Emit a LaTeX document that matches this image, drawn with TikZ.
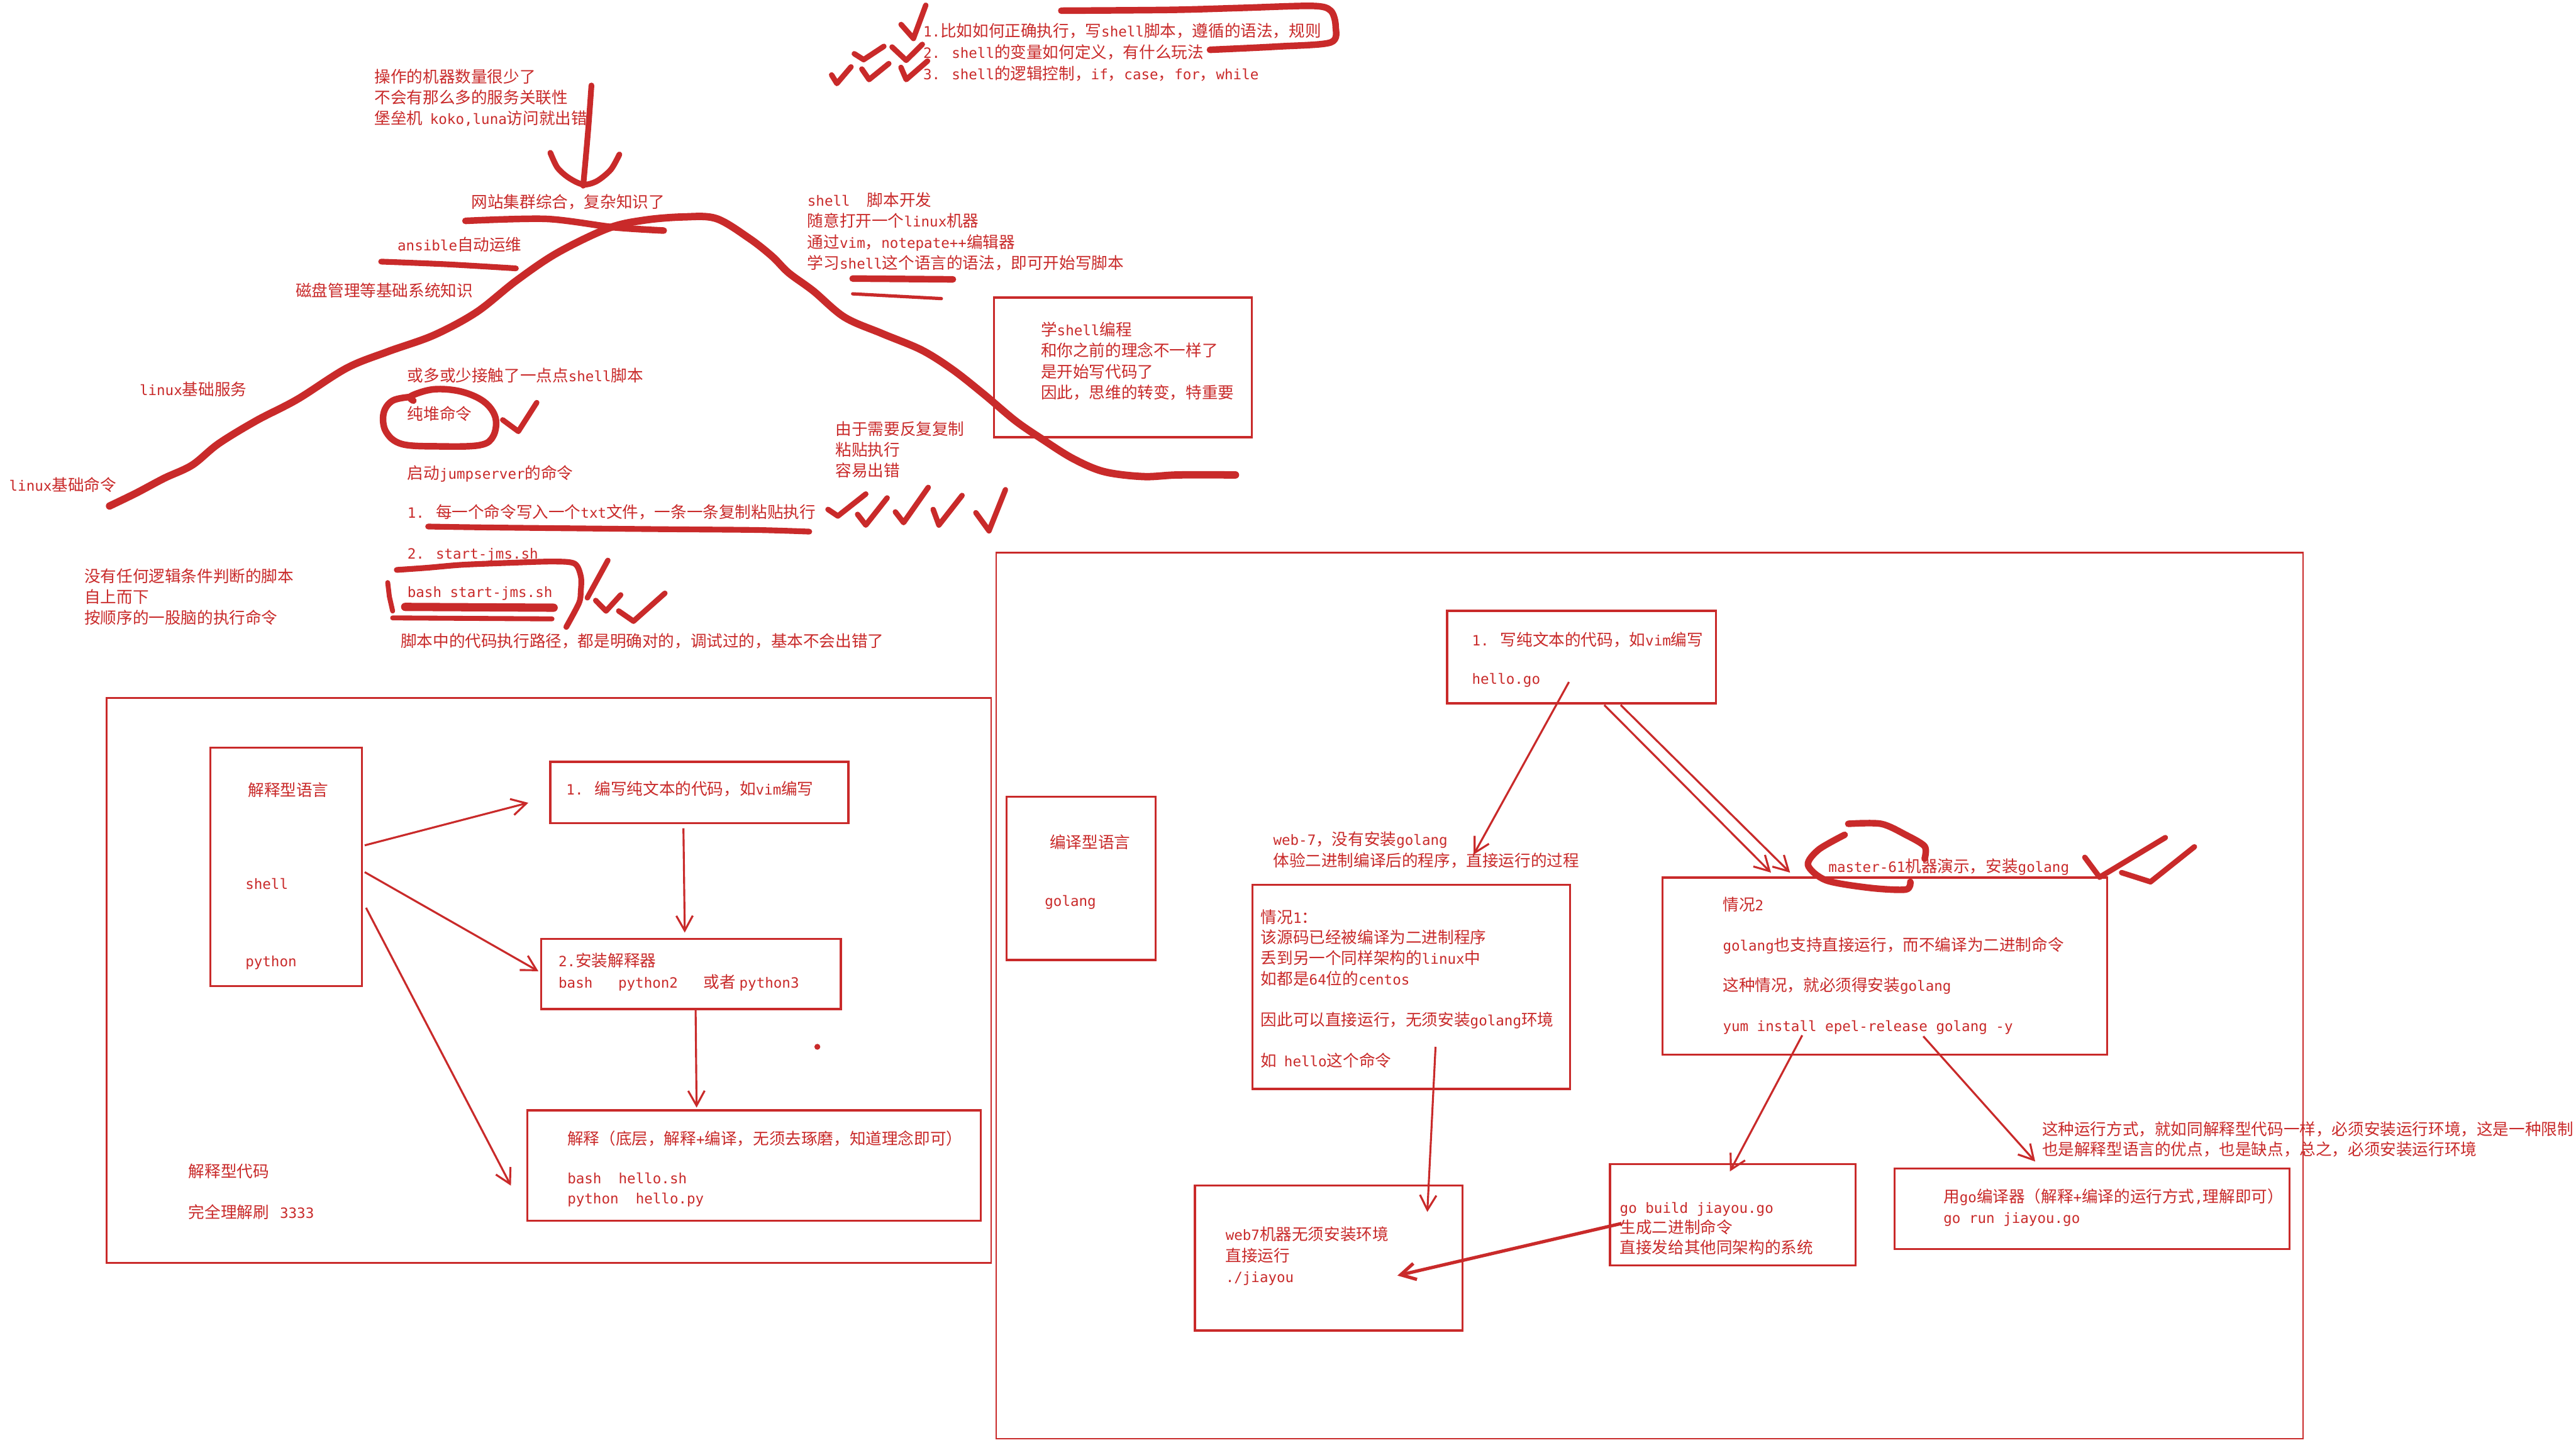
\documentclass[tikz,border=0pt]{standalone}
\usepackage{fontspec}
\usetikzlibrary{arrows.meta,calc}
\newfontfamily\cjkf{Noto Sans CJK SC}
\newfontfamily\latf[Scale=0.88]{DejaVu Sans Mono}
\definecolor{exred}{RGB}{201,42,42}
\XeTeXinterchartokenstate=1
\newXeTeXintercharclass\CJKcls
\newcount\cjkc
\cjkc="3000 \loop\ifnum\cjkc<"3040 \XeTeXcharclass\cjkc=\CJKcls \advance\cjkc by 1 \repeat
\cjkc="4E00 \loop\ifnum\cjkc<"A000 \XeTeXcharclass\cjkc=\CJKcls \advance\cjkc by 1 \repeat
\cjkc="FF00 \loop\ifnum\cjkc<"FFF0 \XeTeXcharclass\cjkc=\CJKcls \advance\cjkc by 1 \repeat
\XeTeXinterchartoks 0 \CJKcls={\cjkf}
\XeTeXinterchartoks 4095 \CJKcls={\cjkf}
\XeTeXinterchartoks \CJKcls 0={\latf}
\XeTeXinterchartoks 4095 0={\latf}
\newcommand\fsz{\fontsize{9.8}{12.6}\selectfont}
\tikzset{
  box/.style={draw=exred, line width=1.3pt, inner sep=0pt, outer sep=0pt, anchor=north west},
  frame/.style={draw=exred, line width=1pt, inner sep=0pt, outer sep=0pt, anchor=north west},
  txt/.style={anchor=north west, inner sep=0pt, outer sep=0pt, align=left, font=\fsz, text=exred, execute at begin node={\rule{0pt}{8.6pt}}},
  arr/.style={draw=exred, line width=1.2pt, -{Straight Barb[length=9pt,width=10pt]}},
  hlstroke/.style={draw=exred, line width=4pt, line cap=round, line join=round},
  tickmk/.style={draw=exred, line width=3.3pt, line cap=round, line join=round},
}
\begin{document}
\begin{tikzpicture}[x=1pt,y=-1pt]
\useasboundingbox (0,0) rectangle (1568,879);
\fill[white] (0,0) rectangle (1568,879);

% ===== top list =====
\node[txt, font={\fontsize{9.8}{13}\selectfont}] (toplist) at (562,14) {1.比如如何正确执行，写shell脚本，遵循的语法，规则\\2. shell的变量如何定义，有什么玩法\\3. shell的逻辑控制，if，case，for，while};
\draw[hlstroke] plot[smooth, tension=0.5] coordinates {(646,6.5) (713,6) (756,4.8) (799,3.6) (810,6.5) (813,16) (810,25.8) (778,28.3) (736.5,30.3)};
\draw[tickmk] (506.2,45.6) -- (509.4,50.8) -- (518,40.7);
\draw[tickmk] (524.6,42) -- (529,48.4) -- (541,38.7);
\draw[tickmk] (520,32.7) -- (525.7,36.3) -- (538,28.2);
\draw[tickmk] (548.4,41) -- (551.6,48.4) -- (564.6,37.1);
\draw[tickmk] (543,28.6) -- (551.6,36.7) -- (561.4,27);
\draw[tickmk] (548.5,14.9) -- (556,23.4) -- (563.5,3.2);

% ===== mountain =====
\draw[hlstroke, line width=4.5pt] plot[smooth, tension=0.55] coordinates {(66.7,307.9) (83,300) (100,291) (117,283) (133,270) (156,256) (181,243) (211,224) (236,214) (264,204) (290,190) (314,171) (339,154) (370,139) (392,134) (416,132) (436,133) (456,145) (470,156) (480,166) (495,177) (514,193) (537,203) (561,213) (580,225) (599,240) (618,256) (634,267) (653,279) (672,287) (696,290) (717,289) (752,289)};

\node[txt] (ops) at (228,42) {操作的机器数量很少了\\不会有那么多的服务关联性\\堡垒机\ \ koko,luna访问就出错};
\draw[hlstroke, line width=3.5pt] (360,52) .. controls (358,80) .. (355,113);
\draw[hlstroke, line width=3.5pt] plot[smooth] coordinates {(335,93) (339.3,102) (346.2,108.2) (355,112.3) (363.3,110.2) (371.8,103.2) (377,94)};

\node[txt] (net) at (287,118) {网站集群综合，复杂知识了};
\draw[hlstroke] plot[smooth] coordinates {(283.3,134.4) (332.6,133.2) (373.5,138.3) (404,140.3)};
\node[txt] (ans) at (242,144) {ansible自动运维};
\draw[hlstroke, line width=3.5pt] plot[smooth] coordinates {(232,159.2) (271.5,160.8) (314,163.3)};
\node[txt] (disk) at (180,172) {磁盘管理等基础系统知识};
\node[txt] (svc) at (85,232) {linux基础服务};
\node[txt] (cmd) at (5.6,290) {linux基础命令};

\node[txt] (bit) at (248,223.6) {或多或少接触了一点点shell脚本};
\node[txt] (pure) at (248,247) {纯堆命令};
\draw[hlstroke] plot[smooth, tension=0.6] coordinates {(251.6,243.8) (250.2,241) (264,236.9) (280.8,238.3) (294.7,244.5) (301.6,254.2) (300.2,265.4) (291.9,270.9) (266.9,271.6) (244.6,270.2) (234.9,262.6) (233.5,251.5) (239,243.8) (250.2,241.5)};
\draw[tickmk] (306,255.5) -- (315.5,262.5) -- (326.7,245);

\node[txt] (jump) at (248,283) {启动jumpserver的命令};
\node[txt] (j1) at (248,306.5) {1. 每一个命令写入一个txt文件，一条一条复制粘贴执行};
\draw[hlstroke, line width=3.5pt] plot[smooth] coordinates {(260.6,320.4) (300,321) (400,322) (460,322.5) (492.6,323.5)};
\draw[tickmk] (504,310) -- (510,314) -- (527,300.6);
\draw[tickmk] (522,313) -- (527,319.5) -- (540,303);
\draw[tickmk] (545,311.5) -- (550,318) -- (565,296.6);
\draw[tickmk] (568,310) -- (571.5,319.5) -- (585.6,301.5);
\draw[tickmk] (594,312) -- (602,323) -- (612,298);

\node[txt] (j2) at (248,331.5) {2. start-jms.sh};
\node[txt] (j3) at (248,354.7) {bash start-jms.sh};
\draw[hlstroke, line width=3.5pt] plot[smooth] coordinates {(241.5,346.8) (260,345.5) (281,343.7) (310,342.5) (337,341.7) (349.8,343) (353.6,351) (353.5,360) (352.4,367) (344.7,381.5)};
\draw[hlstroke, line width=3pt] (236,354.5) -- (237,363) -- (239,371.8);
\draw[hlstroke, line width=5pt] (246.6,369.3) -- (337,369.8);
\draw[hlstroke, line width=3pt] (239,376) -- (336,376.6);
\draw[tickmk] (370,341) -- (357.5,363.8);
\draw[tickmk] (362.6,365.4) -- (368.9,371.8) -- (377.8,362);
\draw[tickmk] (376.6,371.8) -- (385.6,378) -- (404.7,361);
\node[txt] (pathok) at (244,385) {脚本中的代码执行路径，都是明确对的，调试过的，基本不会出错了};

\node[txt] (rep) at (508.6,256.6) {由于需要反复复制\\粘贴执行\\容易出错};
\node[txt, font={\fontsize{9.8}{12.8}\selectfont}] (dev) at (491.5,117) {shell\ \ 脚本开发\\随意打开一个linux机器\\通过vim，notepate++编辑器\\学习shell这个语言的语法，即可开始写脚本};
\draw[hlstroke] (519,169.5) -- (580,170);
\draw[hlstroke, line width=2pt] (519,178.8) -- (573,181.7);

\node[box, minimum width=157pt, minimum height=85pt] (learn) at (605,181) {};
\node[txt, font={\fontsize{9.8}{12.7}\selectfont}] (learnt) at (633.6,196) {学shell编程\\和你之前的理念不一样了\\是开始写代码了\\因此，思维的转变，特重要};

\node[txt] (nologic) at (51.4,346) {没有任何逻辑条件判断的脚本\\自上而下\\按顺序的一股脑的执行命令};

% ===== left frame: interpreted =====
\node[frame, minimum width=538.5pt, minimum height=343.7pt] (leftframe) at (64.8,424.8) {};
\node[box, minimum width=92.4pt, minimum height=145pt] (interp) at (128,455) {};
\node[txt] (interpt) at (151,475.7) {解释型语言};
\node[txt] (shellt) at (149.4,532.4) {shell};
\node[txt] (pyt) at (149.4,579.4) {python};
\node[box, minimum width=181.4pt, minimum height=37.3pt] (box1) at (335,463.5) {};
\node[txt] (box1t) at (344.7,475) {1. 编写纯文本的代码，如vim编写};
\node[box, minimum width=182.4pt, minimum height=42.6pt] (box2) at (329.4,571.4) {};
\node[txt, font={\fontsize{9.8}{13}\selectfont}] (box2t) at (340,580) {2.安装解释器\\bash\ \ \ python2\ \ \ 或者 python3};
\node[box, minimum width=276pt, minimum height=67.2pt] (box3) at (321,675.6) {};
\node[txt, font={\fontsize{9.8}{12}\selectfont}] (box3t) at (345.4,688) {解释（底层，解释+编译，无须去琢磨，知道理念即可）\\[12pt]bash\ \ hello.sh\\python\ \ hello.py};
\draw[arr] ($(interp.north east)+(1.6,59.4)$) -- ($(box1.north west)+(-13.4,25)$);
\draw[arr] ($(interp.north east)+(1.6,75.7)$) -- ($(box2.north west)+(-1.7,19.6)$);
\draw[arr] ($(interp.north east)+(2.4,97.4)$) -- ($(box3.north west)+(-10,45.9)$);
\draw[arr] ($(box1.south west)+(81,3.2)$) -- ($(box2.north west)+(87.4,-3.9)$);
\draw[arr] ($(box2.south west)+(94,-0.7)$) -- ($(box3.north west)+(103,-1.6)$);
\fill[exred] (497.5,637) circle (1.8);
\node[txt, font={\fontsize{9.8}{12.3}\selectfont}] (code) at (114.8,708.3) {解释型代码\\[12.3pt]完全理解刷\ \ \ 3333};

% ===== right frame: compiled =====
\node[frame, minimum width=795.4pt, minimum height=539.1pt] (rightframe) at (606.4,336.4) {};
\node[box, minimum width=90.6pt, minimum height=99.4pt] (comp) at (612.7,484.8) {};
\node[txt] (compt) at (639,507.7) {编译型语言};
\node[txt] (golt) at (636,543) {golang};
\node[box, minimum width=163.6pt, minimum height=56.3pt] (hello) at (880.8,371.7) {};
\node[txt, font={\fontsize{9.8}{12}\selectfont}] (hellot) at (896,384.7) {1. 写纯文本的代码，如vim编写\\[11.3pt]hello.go};
\node[txt, font={\fontsize{9.8}{13}\selectfont}] (web7t) at (775,506) {web-7，没有安装golang\\体验二进制编译后的程序，直接运行的过程};
\node[box, minimum width=193.3pt, minimum height=124.2pt] (q1) at (762.4,538.4) {};
\node[txt, font={\fontsize{9.8}{12.5}\selectfont}] (q1t) at (767.5,553.4) {情况1：\\该源码已经被编译为二进制程序\\丢到另一个同样架构的linux中\\如都是64位的centos\\[12.5pt]因此可以直接运行，无须安装golang环境\\[12.5pt]如\ \ hello这个命令};
\node[box, minimum width=270.5pt, minimum height=107.8pt] (q2) at (1012,534) {};
\node[txt, font={\fontsize{9.8}{12.2}\selectfont}] (q2t) at (1048.7,546) {情况2\\[12.2pt]golang也支持直接运行，而不编译为二进制命令\\[12.2pt]这种情况，就必须得安装golang\\[12.2pt]yum install epel-release golang -y};
\node[txt] (mastert) at (1113,522) {master-61机器演示，安装golang};
\draw[hlstroke] plot[smooth] coordinates {(1125,501.3) (1145,501.3) (1160,508) (1171.5,515) (1171.5,522.6)};
\draw[hlstroke] plot[smooth] coordinates {(1122.8,508) (1107,517) (1100.5,526.4) (1111.6,535.7) (1138.3,540.3) (1160,541.3) (1162.8,536.6)};
\draw[tickmk] (1269,521.7) -- (1278,533.8) -- (1318,509.7);
\draw[tickmk] (1291.4,531) -- (1309,536.6) -- (1335.7,515.3);
\node[box, minimum width=163pt, minimum height=88.1pt] (web7) at (727.3,721.5) {};
\node[txt, font={\fontsize{9.8}{12.75}\selectfont}] (web7b) at (746,746.5) {web7机器无须安装环境\\直接运行\\./jiayou};
\node[box, minimum width=149.4pt, minimum height=61.6pt] (gb) at (980,708.4) {};
\node[txt, font={\fontsize{9.8}{12.3}\selectfont}] (gbt) at (986,731.7) {go build jiayou.go\\生成二进制命令\\直接发给其他同架构的系统};
\node[box, minimum width=240.3pt, minimum height=49pt] (gr) at (1153.3,711) {};
\node[txt, font={\fontsize{9.8}{12.3}\selectfont}] (grt) at (1183,723.5) {用go编译器（解释+编译的运行方式,理解即可）\\go run jiayou.go};
\node[txt, font={\fontsize{9.8}{12.4}\selectfont}] (note) at (1243,682.3) {这种运行方式，就如同解释型代码一样，必须安装运行环境，这是一种限制\\也是解释型语言的优点，也是缺点，总之，必须安装运行环境};

\draw[arr] ($(hello.north west)+(74.2,43.3)$) -- ($(q1.north west)+(134.6,-18.4)$);
\draw[arr] ($(hello.south west)+(95.7,1)$) -- ($(q2.north west)+(66,-3)$);
\draw[arr] ($(hello.south west)+(105.7,1)$) -- ($(q2.north west)+(77.6,-3)$);
\draw[arr] ($(q1.north west)+(111.4,98.6)$) -- ($(web7.north west)+(141.5,16)$);
\draw[arr] ($(q2.north west)+(85,96)$) -- ($(gb.north west)+(73,4.4)$);
\draw[arr] ($(q2.north west)+(158.7,96.6)$) -- ($(gr.north west)+(85.5,-4.2)$);
\draw[arr, line width=2pt] ($(gb.north west)+(7,36.1)$) -- ($(web7.north west)+(123.3,54.7)$);
\end{tikzpicture}
\end{document}
